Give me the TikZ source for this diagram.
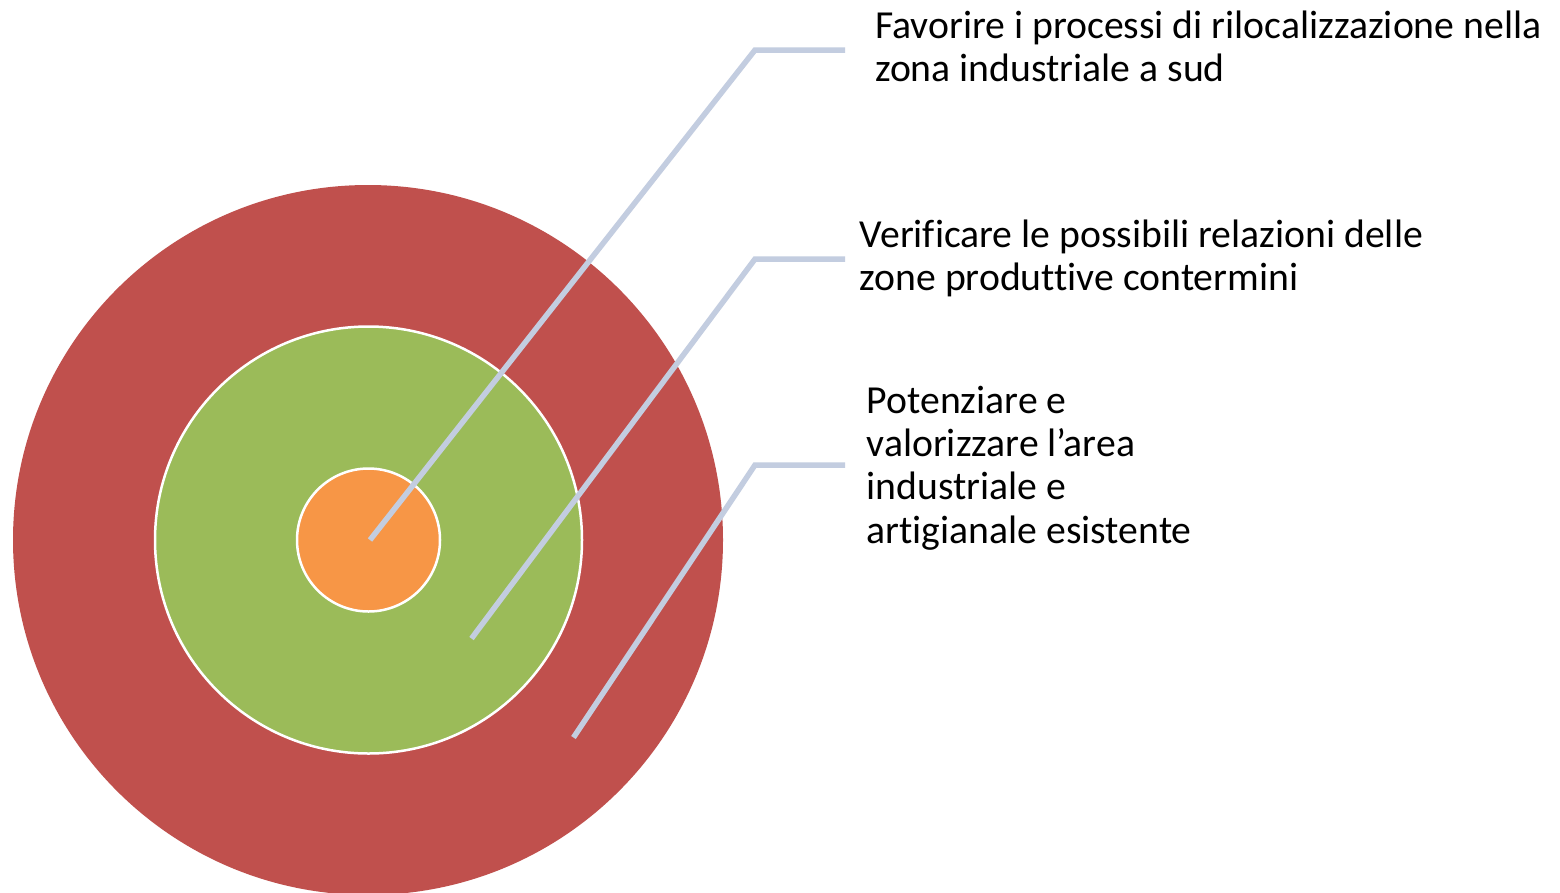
\documentclass[tikz,border=0pt]{standalone}
\usepackage{fontspec}
\setmainfont[Ligatures={NoCommon}]{Carlito}
\definecolor{ringred}{HTML}{C0504D}
\definecolor{ringgreen}{HTML}{9BBB59}
\definecolor{ringorange}{HTML}{F79646}
\definecolor{connblue}{HTML}{C3CDE0}
\tikzset{
  ring/.style={draw=white, line width=2.5pt},
  conn/.style={draw=connblue, line width=5.5pt, line cap=butt, line join=miter},
  label/.style={anchor=base west, inner sep=0pt, text=black,
    font=\fontsize{39.7pt}{43.4pt}\selectfont}
}
\newcommand{\twolines}[2]{\vtop{\baselineskip=43.4pt\hbox{#1}\hbox{#2}}}
\newcommand{\fourlines}[4]{\vtop{\baselineskip=43.4pt\hbox{#1}\hbox{#2}\hbox{#3}\hbox{#4}}}
\begin{document}
\begin{tikzpicture}[x=1pt,y=-1pt]
\useasboundingbox (0,0) rectangle (1560,892);
\clip (0,0) rectangle (1560,892);
\fill[white] (0,0) rectangle (1560,892);
% circles
\node[circle, fill=ringred, minimum size=710pt, inner sep=0pt] (outer) at (368,540) {};
\node[circle, ring, fill=ringgreen, minimum size=427pt, inner sep=0pt] (middle) at (368.5,540) {};
\node[circle, ring, fill=ringorange, minimum size=143pt, inner sep=0pt] (inner) at (368.5,540) {};
% connector coordinates
\coordinate (s1) at (370,540);
\coordinate (k1) at (755,50);
\coordinate (e1) at (845,50);
\coordinate (s2) at (471.5,638.5);
\coordinate (k2) at (755,259);
\coordinate (e2) at (845,259);
\coordinate (s3) at (573.5,737.5);
\coordinate (k3) at (755,465);
\coordinate (e3) at (845,465);
\draw[conn] (s1) -- (k1) -- (e1);
\draw[conn] (s2) -- (k2) -- (e2);
\draw[conn] (s3) -- (k3) -- (e3);
% labels
\node[label] (t1) at (875,38.3) {\twolines{Favorire i processi di rilocalizzazione nella}{zona industriale a sud}};
\node[label] (t2) at (859.5,247.3) {\twolines{Verificare le possibili relazioni delle}{zone produttive contermini}};
\node[label] (t3) at (866.5,413) {\fourlines{Potenziare e}{valorizzare l’area}{industriale e}{artigianale esistente}};
\end{tikzpicture}
\end{document}
